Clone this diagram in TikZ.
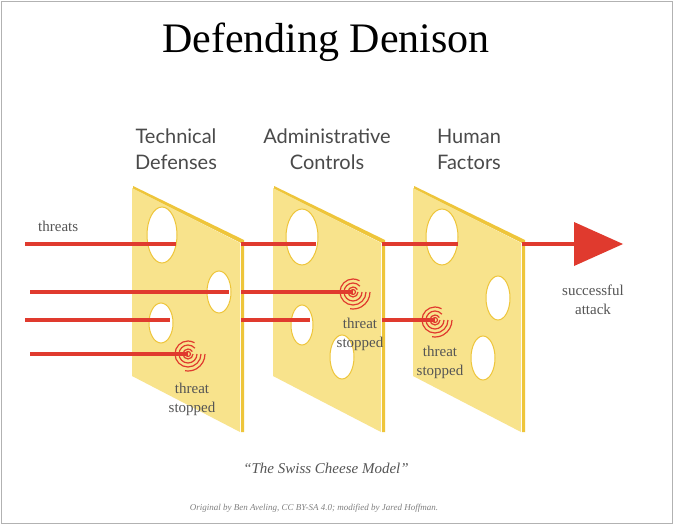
\documentclass[tikz,border=0pt]{standalone}
\usepackage{fontspec}
\setmainfont{Liberation Serif}
\newfontfamily\hdr{Lato}
\begin{document}
\begin{tikzpicture}[x=1pt,y=-1pt,
  cheese/.style={fill=cheeseY},
  cedge/.style={fill=cheeseD},
  hole/.style={fill=white,draw=cheeseD,line width=1pt},
  thr/.style={draw=thrR,line width=4.5pt},
  lbl/.style={text=txtG,font=\fontsize{15}{19}\selectfont,align=center,inner sep=0pt},
  hd/.style={text=hdG,font=\hdr\fontsize{20}{26}\selectfont,align=center,inner sep=0pt}]
\definecolor{cheeseY}{HTML}{F8E38C}
\definecolor{cheeseD}{HTML}{EEC53A}
\definecolor{thrR}{HTML}{E03A2E}
\definecolor{txtG}{HTML}{555555}
\definecolor{hdG}{HTML}{4A4A4A}
\useasboundingbox (0,0) rectangle (674,524);
\fill[white] (0,0) rectangle (674,524);
\draw[gray!60,line width=0.8pt] (1,1) rectangle (672,523);
\node[font=\fontsize{42}{44}\selectfont,inner sep=0pt] (title) at (326,42) {Defending Denison};
\node[hd] (h1) at (176,149) {Technical\\Defenses};
\node[hd] (h2) at (327,149) {Administrative\\Controls};
\node[hd] (h3) at (469,149) {Human\\Factors};
% slices
\foreach \dx/\nm in {0/s1,141/s2,281/s3}{
  \begin{scope}[xshift=\dx]
  \fill[cedge] (133,186) -- (244,240) -- (244,432) -- (241,432) -- (241,243) -- (133,189) -- cycle;
  \fill[cheese] (132,188) -- (240,243) -- (240,432) -- (132,376) -- cycle;
  \end{scope}}
% holes slice 1
\draw[hole] (162,235) ellipse (15 and 28);
\draw[hole] (219,292) ellipse (12 and 21);
\draw[hole] (161,323) ellipse (12 and 20);
% slice 2
\draw[hole] (302,237) ellipse (16 and 28);
\draw[hole] (302,325) ellipse (11 and 20);
\draw[hole] (342,357) ellipse (12 and 22);
% slice 3
\draw[hole] (442,237) ellipse (16 and 28);
\draw[hole] (498,298) ellipse (12 and 22);
\draw[hole] (483,358) ellipse (12 and 22);
% threat lines
\coordinate (a0) at (25,244); \coordinate (a1) at (176,244);
\coordinate (a2) at (241,244); \coordinate (a3) at (316,244);
\coordinate (a4) at (382,244); \coordinate (a5) at (458,244);
\coordinate (a6) at (522,244); \coordinate (a7) at (580,244);
\draw[thr] (a0)--(a1) (a2)--(a3) (a4)--(a5) (a6)--(a7);
\fill[thrR] (574,222) -- (623,244) -- (574,266) -- cycle;
\coordinate (b0) at (30,292); \coordinate (b1) at (229,292);
\coordinate (b2) at (241,292); \coordinate (b3) at (353,292);
\draw[thr] (b0)--(b1) (b2)--(b3);
\coordinate (c0) at (25,320); \coordinate (c1) at (170,320);
\coordinate (c2) at (241,320); \coordinate (c3) at (310,320);
\coordinate (c4) at (382,320); \coordinate (c5) at (435,320);
\draw[thr] (c0)--(c1) (c2)--(c3) (c4)--(c5);
\coordinate (d0) at (30,354); \coordinate (d1) at (188,354);
\draw[thr] (d0)--(d1);
% spirals
\foreach \c in {d1,b3,c5}{
  \draw[thrR,line width=1.2pt] (\c) circle (2.5);
  \draw[thrR,line width=1.2pt] ([shift={(5,0)}]\c) arc (0:330:5);
  \draw[thrR,line width=1.2pt] ([shift={(9,0)}]\c) arc (0:320:9);
  \draw[thrR,line width=1.2pt] ([shift={(13,0)}]\c) arc (0:300:13);
  \draw[thrR,line width=1.2pt] ([shift={(17,0)}]\c) arc (0:100:17);
}
\node[lbl] (t1) at (192,399) {threat\\stopped};
\node[lbl] (t2) at (360,334) {threat\\stopped};
\node[lbl] (t3) at (440,362) {threat\\stopped};
\node[lbl,anchor=west] (thr) at (38,226) {threats};
\node[lbl] (sa) at (593,300) {successful\\attack};
\node[text=txtG,font=\itshape\fontsize{15}{15}\selectfont,inner sep=0pt] (cap) at (326,468) {``The Swiss Cheese Model''};
\node[text=gray,font=\itshape\fontsize{9}{9}\selectfont,inner sep=0pt] (cr) at (314,508) {Original by Ben Aveling, CC BY-SA 4.0; modified by Jared Hoffman.};
\end{tikzpicture}
\end{document}
